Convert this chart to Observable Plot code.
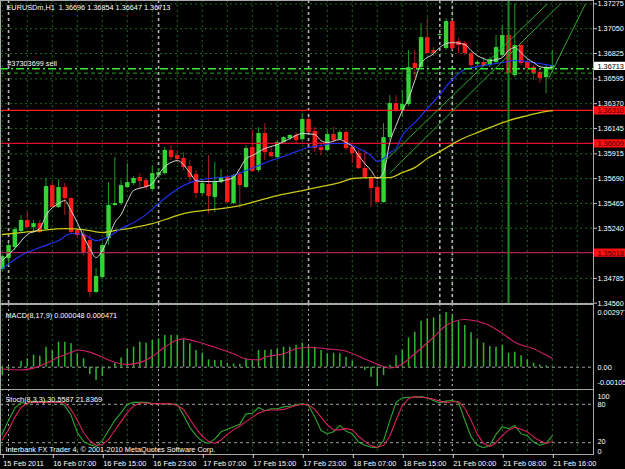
<!DOCTYPE html>
<html><head><meta charset="utf-8">
<script src="https://cdn.jsdelivr.net/npm/d3@7"></script>
<script src="https://cdn.jsdelivr.net/npm/@observablehq/plot@0.6"></script>
<style>
html,body{margin:0;padding:0;background:#000;}
#root{position:relative;width:625px;height:469px;background:#000;overflow:hidden;}
#root > div{position:absolute;left:0;width:625px;}
</style></head><body>
<div id="root"><div id="pMacd" style="top:304px"></div><div id="pStoch" style="top:389px"></div><div id="pMain" style="top:0"></div></div>
<script>
// ---------- DATA ----------
const symbolTitle = "EURUSDm,H1  1.36696 1.36854 1.36647 1.36713";
const macdTitle = "MACD(8,17,9) 0.000048 0.000471";
const stochTitle = "Stoch(8,3,3) 30.5587 21.8369";
const copyright = "Interbank FX Trader 4, \u00A9 2001-2010 MetaQuotes Software Corp.";
const orderText = "#37303699 sell";

const tickIdx = [0,8,16,24,32,40,48,56,64,72,80,88];
const tickLabels = ["15 Feb 2011","16 Feb 07:00","16 Feb 15:00","16 Feb 23:00","17 Feb 07:00","17 Feb 15:00","17 Feb 23:00","18 Feb 07:00","18 Feb 15:00","21 Feb 00:00","21 Feb 08:00","21 Feb 16:00"];
const daySepIdx = [1,25,49,70,72];
const priceTicks = [1.37275,1.37050,1.36825,1.36595,1.36370,1.36145,1.35915,1.35690,1.35465,1.35240,1.34785,1.34560];

const open = [1.34865,1.34965,1.35065,1.35210,1.35310,1.35246,1.35282,1.35228,1.35627,1.35428,
1.35609,1.35509,1.35219,1.35183,1.35128,1.34657,1.34793,1.35146,1.35446,1.35464,
1.35609,1.35645,1.35700,1.35672,1.35591,1.35718,1.35736,1.35945,1.35899,1.35872,
1.35799,1.35727,1.35555,1.35636,1.35518,1.35654,1.35700,1.35464,1.35727,1.35609,
1.35972,1.35763,1.36099,1.35926,1.35881,1.36017,1.36053,1.36081,1.36044,1.36226,
1.36117,1.35972,1.35945,1.36090,1.36044,1.36108,1.35972,1.35917,1.35781,1.35700,
1.35609,1.35473,1.36062,1.36371,1.36307,1.36362,1.36734,1.36697,1.36969,1.36852,
1.36988,1.36870,1.37115,1.36933,1.36915,1.36824,1.36725,1.36743,1.36715,1.36743,
1.36806,1.36988,1.36625,1.36897,1.36743,1.36697,1.36652,1.36607,1.36696];
const high = [1.35001,1.35101,1.35246,1.35355,1.35382,1.35310,1.35310,1.35691,1.35654,1.35681,
1.35645,1.35518,1.35237,1.35219,1.35174,1.34874,1.35101,1.35654,1.35881,1.35672,
1.35827,1.35709,1.35736,1.35691,1.35808,1.35781,1.35972,1.35990,1.35945,1.35926,
1.35854,1.35763,1.35672,1.35899,1.35836,1.35772,1.35718,1.35727,1.35754,1.35990,
1.36126,1.36153,1.36189,1.35972,1.36035,1.36071,1.36090,1.36108,1.36280,1.36244,
1.36153,1.36017,1.36135,1.36153,1.36126,1.36126,1.35990,1.35945,1.35945,1.35718,
1.35672,1.36189,1.36443,1.36443,1.36489,1.36852,1.36852,1.37096,1.37142,1.36879,
1.37006,1.37142,1.37124,1.36960,1.36933,1.36833,1.36761,1.36788,1.36788,1.36988,
1.37078,1.37096,1.37275,1.36915,1.36779,1.36715,1.36670,1.36715,1.36854];
const low = [1.34847,1.34901,1.35038,1.35201,1.35237,1.35192,1.35192,1.35219,1.35418,1.35418,
1.35355,1.35192,1.35146,1.34992,1.34611,1.34648,1.34774,1.35083,1.35437,1.35446,
1.35600,1.35627,1.35600,1.35582,1.35582,1.35691,1.35718,1.35854,1.35836,1.35763,
1.35654,1.35509,1.35536,1.35373,1.35382,1.35645,1.35464,1.35455,1.35418,1.35600,
1.35745,1.35745,1.35854,1.35881,1.35872,1.36008,1.36035,1.36008,1.36035,1.36099,
1.35926,1.35899,1.35935,1.36017,1.36035,1.35945,1.35827,1.35772,1.35691,1.35428,
1.35464,1.35464,1.36035,1.36289,1.36244,1.36344,1.36607,1.36688,1.36824,1.36797,
1.36979,1.36852,1.36852,1.36824,1.36806,1.36697,1.36697,1.36697,1.36697,1.36734,
1.36788,1.36625,1.36607,1.36715,1.36652,1.36579,1.36552,1.36461,1.36647];
const close = [1.34983,1.35083,1.35228,1.35310,1.35246,1.35282,1.35201,1.35618,1.35428,1.35609,
1.35509,1.35201,1.35174,1.35019,1.34657,1.34802,1.35083,1.35446,1.35464,1.35627,
1.35654,1.35691,1.35663,1.35609,1.35736,1.35745,1.35945,1.35881,1.35863,1.35790,
1.35700,1.35555,1.35645,1.35527,1.35654,1.35700,1.35473,1.35718,1.35627,1.35963,
1.35754,1.36099,1.35926,1.35890,1.36017,1.36062,1.36081,1.36035,1.36226,1.36108,
1.35963,1.35945,1.36090,1.36035,1.36108,1.35963,1.35917,1.35781,1.35700,1.35600,
1.35473,1.36062,1.36371,1.36307,1.36362,1.36697,1.36688,1.36969,1.36824,1.36824,
1.36997,1.37115,1.36870,1.36897,1.36824,1.36715,1.36743,1.36715,1.36770,1.36879,
1.36988,1.36643,1.36897,1.36734,1.36688,1.36643,1.36598,1.36697,1.36713];

const maFastIdx = [0,2,4,6,7,9,10,11,12,13,14,15,16,17,18,19,20,21,23,24,25,26,27,28,30,31,32,34,36,37,38,39,40,42,44,46,48,50,51,52,54,55,56,57,58,59,60,61,62,63,64,65,66,67,69,70,71,72,74,75,76,77,78,79,80,81,82,83,84,85,86,87,88];
const maFastVal = [1.34947,1.35056,1.35183,1.35237,1.35355,1.35464,1.35491,1.35400,1.35291,1.35165,1.35056,1.34974,1.35038,1.35155,1.35291,1.35364,1.35482,1.35582,1.35618,1.35645,1.35727,1.35799,1.35836,1.35854,1.35745,1.35672,1.35663,1.35663,1.35681,1.35700,1.35781,1.35872,1.35899,1.35963,1.35999,1.36053,1.36099,1.36090,1.36035,1.36017,1.36044,1.36017,1.35981,1.35899,1.35827,1.35763,1.35691,1.35745,1.36017,1.36171,1.36307,1.36416,1.36579,1.36734,1.36824,1.36879,1.36915,1.36924,1.36906,1.36852,1.36806,1.36779,1.36761,1.36770,1.36788,1.36852,1.36879,1.36833,1.36779,1.36743,1.36706,1.36697,1.36697];
const maMidIdx = [0,3,6,9,11,13,15,17,19,21,23,25,27,29,31,33,35,37,39,41,43,45,47,49,51,53,55,57,59,60,61,62,63,64,66,68,70,71,72,73,74,76,78,80,82,84,86,88];
const maMidVal = [1.34874,1.34992,1.35065,1.35128,1.35192,1.35183,1.35128,1.35165,1.35237,1.35291,1.35364,1.35464,1.35555,1.35627,1.35672,1.35691,1.35700,1.35718,1.35763,1.35808,1.35854,1.35890,1.35935,1.35972,1.35990,1.36008,1.36008,1.35963,1.35899,1.35845,1.35872,1.35926,1.35963,1.36081,1.36198,1.36325,1.36452,1.36525,1.36589,1.36643,1.36679,1.36706,1.36725,1.36743,1.36761,1.36752,1.36734,1.36715];
const maSlowIdx = [0,3,6,10,13,16,18,21,24,27,29,32,35,38,41,44,48,51,54,56,59,62,64,66,68,70,73,76,78,81,84,86,88];
const maSlowVal = [1.35183,1.35201,1.35219,1.35237,1.35228,1.35201,1.35219,1.35246,1.35282,1.35337,1.35373,1.35400,1.35418,1.35446,1.35491,1.35536,1.35582,1.35618,1.35654,1.35691,1.35700,1.35700,1.35745,1.35790,1.35872,1.35935,1.36035,1.36108,1.36153,1.36217,1.36262,1.36289,1.36307];

const hLevels = [1.36310, 1.36009, 1.35018];
const currentPrice = 1.36713;
const orderLevels = [1.36687, 1.36647];
const vLineIdx = [81];
const trendIdx1 = [61, 62, 87.4];
const trendVal1 = [1.35836, 1.35739, 1.36598];
const trendIdx2 = [87.2, 89.3, 93.3];
const trendVal2 = [1.37275, 1.37275, 1.37275];

const macdHist = [-0.00045,-0.0002,0.0,0.00031,0.00045,0.00065,0.0006,0.00109,0.0009,0.00136,
0.00136,0.00127,0.00073,0.00045,-0.0004,-0.00073,-0.0005,-0.0001,0.0002,0.0005,
0.001,0.00109,0.00136,0.00131,0.00145,0.00154,0.00172,0.00172,0.00172,0.00149,
0.00127,0.00091,0.00076,0.0004,0.00036,0.00036,0.0002,0.00018,0.00015,0.00045,
0.00036,0.00091,0.00091,0.00094,0.001,0.00109,0.00109,0.00118,0.00131,0.00112,
0.00109,0.00091,0.00073,0.00076,0.00073,0.00054,0.00033,0.00002,-0.00018,-0.00054,
-0.00105,-0.00045,0.0001,0.00063,0.00094,0.00159,0.0019,0.0025,0.00263,0.00268,
0.00281,0.002977,0.00281,0.0025,0.00227,0.00187,0.00154,0.00131,0.00112,0.00109,
0.00118,0.00076,0.00082,0.00063,0.0004,0.00022,0.00012,0.00008,0.000048];
const macdSigIdx = [0,3,5,7,9,11,12,14,16,18,20,22,24,26,28,29,31,34,37,39,41,42,45,47,49,52,55,58,61,62,64,66,69,71,74,76,77,80,82,85,88];
const macdSigVal = [-0.0001,-0.00015,-0.00005,0.0002,0.00055,0.0008,0.00094,0.00082,0.00054,0.00027,0.00015,0.00025,0.00058,0.0011,0.00148,0.00154,0.0014,0.00109,0.00073,0.00045,0.0004,0.00054,0.00073,0.001,0.00109,0.001,0.00087,0.00045,0.00004,-0.00004,0.00018,0.00073,0.00163,0.00227,0.0026,0.0025,0.0024,0.00185,0.00136,0.001,0.000471];
const macdScale = [-0.00105, 0.002977];

const stochMain = [34,55,74,83,81,85,83,85,83,85,
78,63,36,22,17,14,23,39,55,67,
80,83,83,83,81,81,81,80,80,63,
44,31,22,19,26,37,41,45,49,65,
66,75,70,73,73,76,77,79,81,78,
60,39,34,37,47,38,34,21,16,13,
12,23,54,83,90,91,91,92,90,86,
82,85,86,83,55,29,16,12,16,33,
45,42,47,34,31,21,16,19,30.5587];
const stochSignal = [25,40,60,75,82,83,83,83,83,83,
82,72,55,36,23,16,17,25,39,53,
67,77,82,82,81,81,81,81,78,72,
57,42,30,22,19,24,33,40,46,53,
60,66,70,71,71,72,75,78,80,79,
72,60,48,40,40,42,40,30,22,15,
13,16,30,55,78,89,92,91,90,88,
85,83,84,84,74,55,33,19,14,20,
31,40,44,41,37,29,23,19,21.8369];
const stochLevels = [80, 20];

// ---------- STYLE ----------
const FONT = "'Liberation Sans', Arial, sans-serif";
const FS = 7.3;
const GRID = "#1f6a1f";
const SEP = "#b4b4b4";
const FRAME = "#a8a8a8";
const baseStyle = {background: "transparent", color: "#ffffff", fontFamily: FONT, fontSize: FS + "px", overflow: "visible"};
const xScale = {domain: [-0.288, 94.592], range: [0, 593], axis: null};
const gridIdx = d3.range(0, 93, 4);
const hColors = ["#ff1a1a", "#e01030", "#b0205a"];

// ---------- derived tables ----------
const bars = open.map((o, i) => ({i, o, h: high[i], l: low[i], c: close[i], up: close[i] >= o}));
const toPts = (idx, val) => idx.map((i, k) => ({i, v: val[k]}));
const trends = trendIdx1.map((x1, k) => ({x1, y1: trendVal1[k], x2: trendIdx2[k], y2: trendVal2[k]}));
const boxes = [
  {p: currentPrice, bg: "#ffffff", fg: "#000000"},
  ...hLevels.map(p => ({p, bg: "#ff1010", fg: "#3a0000"}))
];

// ---------- MAIN PANEL ----------
const mainPlot = Plot.plot({
  width: 625, height: 303, marginLeft: 0, marginRight: 32, marginTop: 0, marginBottom: 0,
  x: xScale,
  y: {domain: [1.34560, 1.37275], range: [302.7, 3.4]},
  color: {type: "identity"},
  style: baseStyle,
  marks: [
    Plot.ruleY(priceTicks, {stroke: GRID, strokeDasharray: "2,3"}),
    Plot.ruleX(gridIdx, {stroke: GRID, strokeDasharray: "2,3"}),
    Plot.ruleX(daySepIdx, {stroke: SEP, strokeWidth: 1.6, strokeDasharray: "3,3"}),
    Plot.ruleX(bars, {x: "i", y1: "l", y2: "h", stroke: d => d.up ? "#1f9a1f" : "#b01828", strokeWidth: 1}),
    Plot.ruleX(bars, {x: "i", y1: "o", y2: "c", stroke: d => d.up ? "#33d433" : "#ff1a1a", strokeWidth: 4.4}),
    Plot.ruleY(hLevels, {y: d => d, stroke: (d, k) => hColors[k], strokeWidth: 1.2}),
    Plot.ruleX(vLineIdx, {stroke: "#1f8a1f", strokeWidth: 2}),
    Plot.line(toPts(maSlowIdx, maSlowVal), {x: "i", y: "v", stroke: "#c8c814", strokeWidth: 1.3, curve: "monotone-x"}),
    Plot.line(toPts(maMidIdx, maMidVal), {x: "i", y: "v", stroke: "#2234ff", strokeWidth: 1.1, curve: "monotone-x"}),
    Plot.line(toPts(maFastIdx, maFastVal), {x: "i", y: "v", stroke: "#d8d8d8", strokeWidth: 1, curve: "monotone-x"}),
    Plot.link(trends, {x1: "x1", y1: "y1", x2: "x2", y2: "y2", stroke: "#2ea82e", strokeWidth: 1}),
    Plot.ruleY([orderLevels[0]], {stroke: "#33ee33", strokeWidth: 1.5, strokeDasharray: "8,3,2,3"}),
    Plot.ruleY([orderLevels[1]], {stroke: "#22a822", strokeWidth: 1, strokeDasharray: "4,3"}),
    Plot.text([orderText], {x: 0, y: orderLevels[0], text: d => d, dx: 5, dy: -5, textAnchor: "start", fill: "#ffffff"}),
    Plot.frame({stroke: FRAME}),
    Plot.axisY(priceTicks, {anchor: "right", tickSize: 3, tickPadding: 1, tickFormat: d => d.toFixed(5), stroke: "#c8c8c8", fill: "#ffffff", textAnchor: "start", label: null}),
    Plot.ruleY(boxes, {y: "p", stroke: "bg", strokeWidth: 8.2, dx: 594}),
    Plot.text(boxes, {y: "p", text: d => d.p.toFixed(5), fill: "fg", frameAnchor: "right", dx: 4, dy: 0.5, textAnchor: "start"}),
    Plot.text([symbolTitle], {frameAnchor: "top-left", text: d => d, dx: 6, dy: 7, lineAnchor: "middle", textAnchor: "start", fill: "#ffffff"})
  ]
});
document.getElementById("pMain").appendChild(mainPlot);

// ---------- MACD PANEL ----------
const macdPlot = Plot.plot({
  width: 625, height: 85, marginLeft: 0, marginRight: 32, marginTop: 0, marginBottom: 0,
  x: xScale,
  y: {domain: macdScale, range: [82, 8], axis: null},
  color: {type: "identity"},
  style: baseStyle,
  marks: [
    Plot.ruleX(gridIdx, {stroke: GRID, strokeDasharray: "2,3"}),
    Plot.ruleX(daySepIdx, {stroke: SEP, strokeWidth: 1, strokeDasharray: "2,3"}),
    Plot.ruleY([0], {stroke: "#a0a0a0", strokeDasharray: "3,3"}),
    Plot.ruleX(macdHist.map((v, i) => ({i, v})), {x: "i", y1: 0, y2: "v", stroke: "#2fb82f", strokeWidth: 1.5}),
    Plot.line(toPts(macdSigIdx, macdSigVal), {x: "i", y: "v", stroke: "#d0206a", strokeWidth: 1.1, curve: "monotone-x"}),
    Plot.frame({stroke: FRAME}),
    Plot.text([macdTitle], {frameAnchor: "top-left", text: d => d, dx: 5, dy: 11, lineAnchor: "middle", textAnchor: "start", fill: "#ffffff"}),
    Plot.text([macdScale[1], 0], {y: d => d, text: d => d === 0 ? "0.00" : d.toFixed(6), frameAnchor: "right", dx: 4, textAnchor: "start", fill: "#ffffff"}),
    Plot.text([macdScale[0]], {y: d => d, text: d => d.toFixed(5), frameAnchor: "right", dx: 4, dy: -4, textAnchor: "start", fill: "#ffffff"})
  ]
});
document.getElementById("pMacd").appendChild(macdPlot);

// ---------- STOCH PANEL ----------
const labelOf = new Map(tickIdx.map((d, k) => [d, tickLabels[k]]));
const stochPlot = Plot.plot({
  width: 625, height: 80, marginLeft: 0, marginRight: 32, marginTop: 0, marginBottom: 15,
  x: {domain: xScale.domain, range: xScale.range},
  y: {domain: [0, 100], range: [66, 2], axis: null},
  color: {type: "identity"},
  style: baseStyle,
  marks: [
    Plot.ruleX(gridIdx, {stroke: GRID, strokeDasharray: "2,3"}),
    Plot.ruleX(daySepIdx, {stroke: SEP, strokeWidth: 1, strokeDasharray: "2,3"}),
    Plot.ruleY(stochLevels, {stroke: "#a0a0a0", strokeDasharray: "3,3"}),
    Plot.line(stochMain.map((v, i) => ({i, v})), {x: "i", y: "v", stroke: "#2aa82a", strokeWidth: 1.1}),
    Plot.line(stochSignal.map((v, i) => ({i, v})), {x: "i", y: "v", stroke: "#d8205a", strokeWidth: 1.1}),
    Plot.frame({stroke: FRAME}),
    Plot.axisX(tickIdx, {anchor: "bottom", tickSize: 4, tickPadding: 2, tickFormat: d => labelOf.get(d), textAnchor: "start", dx: 1, stroke: "#d0d0d0", fill: "#ffffff", label: null}),
    Plot.text([stochTitle], {frameAnchor: "top-left", text: d => d, dx: 5, dy: 10, lineAnchor: "middle", textAnchor: "start", fill: "#ffffff"}),
    Plot.text([copyright], {frameAnchor: "bottom-left", text: d => d, dx: 5, dy: -5, lineAnchor: "middle", textAnchor: "start", fill: "#ffffff"}),
    Plot.text([100], {y: d => d, text: d => String(d), frameAnchor: "right", dx: 4, dy: 5, textAnchor: "start", fill: "#ffffff"}),
    Plot.text([stochLevels[0]], {y: d => d, text: d => String(d), frameAnchor: "right", dx: 4, textAnchor: "start", fill: "#ffffff"}),
    Plot.text([stochLevels[1]], {y: d => d, text: d => String(d), frameAnchor: "right", dx: 4, dy: -1, textAnchor: "start", fill: "#ffffff"}),
    Plot.text([0], {y: d => d, text: d => String(d), frameAnchor: "right", dx: 4, dy: -4, textAnchor: "start", fill: "#ffffff"})
  ]
});
document.getElementById("pStoch").appendChild(stochPlot);
</script>
</body></html>
